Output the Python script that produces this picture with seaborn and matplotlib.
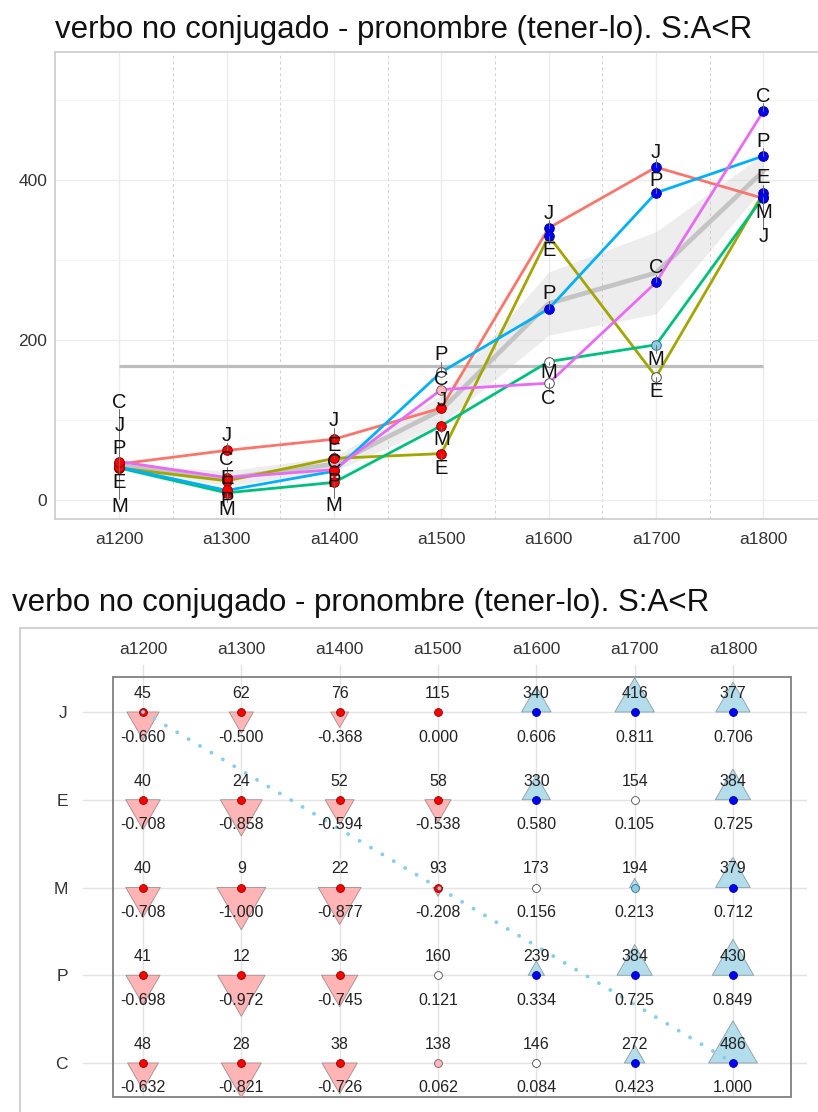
import numpy as np
import pandas as pd
import matplotlib
matplotlib.use("Agg")
import matplotlib.pyplot as plt
import seaborn as sns
from matplotlib.path import Path
from matplotlib.patches import Rectangle
from matplotlib.ticker import FixedLocator

# ---------------------------------------------------------------- data
periods = ["a1200", "a1300", "a1400", "a1500", "a1600", "a1700", "a1800"]
speakers = ["J", "E", "M", "P", "C"]

freq_J = [45, 62, 76, 115, 340, 416, 377]
freq_E = [40, 24, 52, 58, 330, 154, 384]
freq_M = [40, 9, 22, 93, 173, 194, 379]
freq_P = [41, 12, 36, 160, 239, 384, 430]
freq_C = [48, 28, 38, 138, 146, 272, 486]

coef_J = [-0.660, -0.500, -0.368, 0.000, 0.606, 0.811, 0.706]
coef_E = [-0.708, -0.858, -0.594, -0.538, 0.580, 0.105, 0.725]
coef_M = [-0.708, -1.000, -0.877, -0.208, 0.156, 0.213, 0.712]
coef_P = [-0.698, -0.972, -0.745, 0.121, 0.334, 0.725, 0.849]
coef_C = [-0.632, -0.821, -0.726, 0.062, 0.084, 0.423, 1.000]

# association class of every cell (low / weak low / neutral / weak high / high)
sig_J = ["lo", "lo", "lo", "lo", "hi", "hi", "hi"]
sig_E = ["lo", "lo", "lo", "lo", "hi", "mid", "hi"]
sig_M = ["lo", "lo", "lo", "lo", "mid", "hi_w", "hi"]
sig_P = ["lo", "lo", "lo", "mid", "hi", "hi", "hi"]
sig_C = ["lo", "lo", "lo", "lo_w", "mid", "hi", "hi"]

title = "verbo no conjugado - pronombre (tener-lo). S:A<R"

freqs = {"J": freq_J, "E": freq_E, "M": freq_M, "P": freq_P, "C": freq_C}
coefs = {"J": coef_J, "E": coef_E, "M": coef_M, "P": coef_P, "C": coef_C}
sigs = {"J": sig_J, "E": sig_E, "M": sig_M, "P": sig_P, "C": sig_C}

rows = []
for r, sp in enumerate(speakers):
    for c, per in enumerate(periods):
        rows.append(dict(speaker=sp, period=per, col=c, row=r,
                         freq=freqs[sp][c], coef=coefs[sp][c], sig=sigs[sp][c]))
df = pd.DataFrame(rows)

line_colors = dict(zip(speakers, ["#F8766D", "#A3A500", "#00BF7D", "#00B0F6", "#E76BF3"]))
point_fill = {"lo": "#FF0000", "lo_w": "#FFB6C1", "mid": "#FFFFFF", "hi_w": "#87CEEB", "hi": "#0000FF"}
point_edge = {"lo": "#8B0000", "lo_w": "#7A5A60", "mid": "#4D4D4D", "hi_w": "#3A6A80", "hi": "#00008B"}

# ---------------------------------------------------------------- style
sns.set_theme(style="white")
plt.rcParams["font.family"] = ["Liberation Sans", "DejaVu Sans"]
text_col = "#333333"

W, H = 818, 1112
fig = plt.figure(figsize=(W / 100, H / 100), dpi=100)


def px_box(x0, y0, x1, y1):
    """Axes rectangle given in pixel edges measured from the top-left corner."""
    return [x0 / W, 1 - y1 / H, (x1 - x0) / W, (y1 - y0) / H]


# ================================================================ top: trajectories
unit_x = 107.33
ylo, yhi = -23.75, 560
ax1 = fig.add_axes(px_box(55, 52, 55 + 7.2 * unit_x, 519))
ax1.set_xlim(-0.6, 6.6)
ax1.set_ylim(ylo, yhi)

ax1.xaxis.set_major_locator(FixedLocator(range(len(periods))))
ax1.xaxis.set_minor_locator(FixedLocator(np.arange(0.5, len(periods) - 1, 1.0)))
ax1.yaxis.set_major_locator(FixedLocator([0, 200, 400]))
ax1.yaxis.set_minor_locator(FixedLocator([100, 300, 500]))
ax1.set_xticklabels(periods)
ax1.grid(True, which="major", color="#EBEBEB", lw=1.0)
ax1.grid(True, which="minor", axis="y", color="#F3F3F3", lw=0.7)
ax1.grid(True, which="minor", axis="x", color="#D0D0D0", lw=0.7, ls=(0, (3, 3)))
ax1.set_axisbelow(True)
for s in ax1.spines.values():
    s.set_color("#CFCFCF")
    s.set_linewidth(1.3)
ax1.tick_params(axis="both", which="major", length=3.5, width=0.9, color="#B0B0B0",
                labelsize=12.5, labelcolor=text_col)
ax1.tick_params(axis="x", which="major", pad=6)
ax1.tick_params(axis="y", which="major", pad=2)
ax1.tick_params(axis="both", which="minor", length=0)

overall_mean = df["freq"].mean()
ax1.hlines(overall_mean, 0, len(periods) - 1, color="#BEBEBE", lw=2.3, zorder=1)

sns.lineplot(data=df, x="col", y="freq", errorbar="se", color="#C4C4C4", lw=3.4,
             err_kws={"alpha": 0.3, "lw": 0}, ax=ax1, zorder=2)
sns.lineplot(data=df, x="col", y="freq", hue="speaker", palette=line_colors,
             errorbar=None, lw=2.0, legend=False, ax=ax1, zorder=3)
for cls, sub in df.groupby("sig"):
    sns.scatterplot(data=sub, x="col", y="freq", color=point_fill[cls], s=48,
                    edgecolor=point_edge[cls], linewidth=0.7, legend=False, ax=ax1, zorder=4)


def spread_labels(vals, lo, hi, min_gap=31.0, pt_gap=19.0, iters=2500):
    """Push letters apart along y so they neither overlap nor sit on a point,
    keeping them inside [lo, hi]."""
    vals = np.asarray(vals, float)
    n = len(vals)
    order = np.argsort(-vals, kind="stable")
    rank = np.empty(n)
    rank[order] = np.arange(n)
    side = np.where(rank < n / 2, 1.0, -1.0)
    pos = vals + side
    for _ in range(iters):
        f = 0.02 * (vals - pos)
        for i in range(n):
            for j in range(n):
                if i == j:
                    continue
                d = pos[i] - pos[j]
                if abs(d) < min_gap:
                    sg = np.sign(d) if d != 0 else (1.0 if rank[i] < rank[j] else -1.0)
                    f[i] += sg * (min_gap - abs(d))
            for k in range(n):
                d = pos[i] - vals[k]
                if abs(d) < pt_gap:
                    sg = np.sign(d) if d != 0 else side[i]
                    f[i] += sg * (pt_gap - abs(d))
        pos = np.clip(pos + 0.1 * f, lo, hi)
    return pos


for c, per in enumerate(periods):
    sub = df[df["col"] == c]
    lab_y = spread_labels(sub["freq"].values, ylo + 12, yhi - 12)
    for (sp, v), ly in zip(zip(sub["speaker"], sub["freq"]), lab_y):
        gap = ly - v
        if abs(gap) > 13:
            end = ly - np.sign(gap) * 9
            ax1.plot([c, c], [v, end], color="#6E6E6E", lw=0.7, zorder=4.5)
        ax1.text(c, ly, sp, ha="center", va="center", fontsize=14.5, color="#111111", zorder=6)

ax1.set_xlabel("")
ax1.set_ylabel("")
fig.text(55 / W, 1 - 30 / H, title, ha="left", va="center", fontsize=22.5, color="#111111")

# ================================================================ bottom: cell grid
col_step, row_step = 98.33, 87.75
x0c, y0r = 143, 712
L, R, T, B = 83, 807, 665, 1098
ax2 = fig.add_axes(px_box(L, T, R, B))
ax2.set_xlim((L - x0c) / col_step, (R - x0c) / col_step)
ax2.set_ylim((B - y0r) / row_step, (T - y0r) / row_step)
ax2.xaxis.set_major_locator(FixedLocator(range(len(periods))))
ax2.yaxis.set_major_locator(FixedLocator(range(len(speakers))))
ax2.set_xticklabels(periods)
ax2.set_yticklabels(speakers)
ax2.xaxis.tick_top()
ax2.tick_params(axis="x", length=0, pad=6, labelsize=12.5, labelcolor=text_col)
ax2.tick_params(axis="y", length=0, pad=11, labelsize=12.5, labelcolor=text_col)
ax2.grid(True, color="#E3E3E3", lw=1.0)
ax2.set_axisbelow(True)
for s in ax2.spines.values():
    s.set_visible(False)

box_l = (113 - x0c) / col_step
box_r = (791 - x0c) / col_step
box_t = (677 - y0r) / row_step
box_b = (1097 - y0r) / row_step
ax2.add_patch(Rectangle((box_l, box_t), box_r - box_l, box_b - box_t, fill=False,
                        ec="#808080", lw=1.3, zorder=1.5, clip_on=False))

# triangles with their flat side on the cell centre, length proportional to |coef|
tri_down = Path([(-0.577, 0.0), (0.577, 0.0), (0.0, -1.0), (-0.577, 0.0)],
                [Path.MOVETO, Path.LINETO, Path.LINETO, Path.CLOSEPOLY])
tri_up = Path([(-0.577, 0.0), (0.577, 0.0), (0.0, 1.0), (-0.577, 0.0)],
              [Path.MOVETO, Path.LINETO, Path.LINETO, Path.CLOSEPOLY])
df["coef_sq"] = df["coef"] ** 2
neg = df[df["coef"] <= -0.2]
pos = df[df["coef"] >= 0.2]
sns.scatterplot(data=neg, x="col", y="row", size="coef_sq", size_norm=(0, 1), sizes=(0, 3700),
                marker=tri_down, color="#FFB5B5", edgecolor="#A08C8C", linewidth=0.6,
                legend=False, ax=ax2, zorder=2)
sns.scatterplot(data=pos, x="col", y="row", size="coef_sq", size_norm=(0, 1), sizes=(0, 3700),
                marker=tri_up, color="#B4DDEB", edgecolor="#8A9CA4", linewidth=0.6,
                legend=False, ax=ax2, zorder=2)

for cls, sub in df.groupby("sig"):
    sns.scatterplot(data=sub, x="col", y="row", color=point_fill[cls], s=32,
                    edgecolor=point_edge[cls], linewidth=0.6, legend=False, ax=ax2, zorder=3)

# diagonal guide from the first to the last cell
ax2.plot([0, len(periods) - 1], [0, len(speakers) - 1], color="#87CEEB", lw=2.8,
         ls=(0, (0.01, 3.4)), dash_capstyle="round", solid_capstyle="round", zorder=3.5)

for _, r in df.iterrows():
    ax2.annotate(f"{r['freq']}", (r["col"], r["row"]), xytext=(0, 13.5),
                 textcoords="offset points", ha="center", va="center",
                 fontsize=11.5, color="#222222", zorder=5)
    ax2.annotate(f"{r['coef']:.3f}", (r["col"], r["row"]), xytext=(0, -18),
                 textcoords="offset points", ha="center", va="center",
                 fontsize=11.5, color="#222222", zorder=5)

ax2.set_xlabel("")
ax2.set_ylabel("")

# light frame around the lower panel
fig.add_artist(Rectangle((20 / W, -0.05), 1.0, (H - 628) / H + 0.05, transform=fig.transFigure,
                         fill=False, ec="#D2D2D2", lw=1.5))
fig.text(12 / W, 1 - 603 / H, title, ha="left", va="center", fontsize=22.5, color="#111111")

fig.savefig("out.png", dpi=100)
